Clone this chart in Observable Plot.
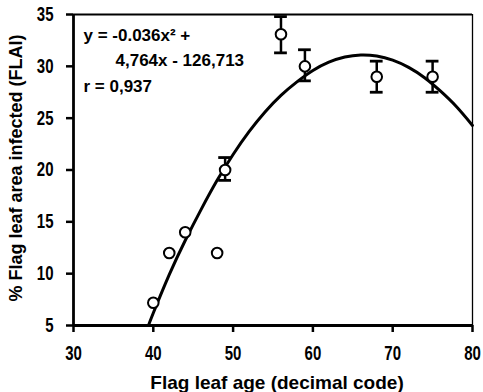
<!DOCTYPE html>
<html>
<head>
<meta charset="utf-8">
<script src="https://cdn.jsdelivr.net/npm/d3@7"></script>
<script src="https://cdn.jsdelivr.net/npm/@observablehq/plot@0.6"></script>
<style>
  html, body { margin: 0; padding: 0; background: #fff; }
  #chart { width: 483px; height: 392px; overflow: hidden; }
</style>
</head>
<body>
<div id="chart"></div>
<script>
// Observed points
const age = [40, 42, 44, 48, 49, 56, 59, 68, 75];
const flai = [7.2, 12, 14, 12, 20, 33.1, 30, 29, 29];

// Error bars
const errAge = [49, 56, 59, 68, 75];
const errLow = [19.0, 31.3, 28.6, 27.5, 27.5];
const errHigh = [21.2, 34.8, 31.6, 30.5, 30.5];

// Fitted curve, points
const fitX = [39.4, 40, 42, 44, 46, 48, 50, 52, 54, 56, 58, 60, 62, 64, 66, 68, 70, 72, 74, 76, 78, 80];
const fitY = [5.0, 6.2, 9.9, 13.2, 16.2, 19.0, 21.5, 23.7, 25.6, 27.2, 28.5, 29.6, 30.4, 30.9, 31.1, 31.0, 30.6, 29.9, 28.9, 27.6, 26.1, 24.3];

// Tick labels and texts
const xTicks = [30, 40, 50, 60, 70, 80];
const yTicks = [5, 10, 15, 20, 25, 30, 35];
const xTitle = "Flag leaf age (decimal code)";
const yTitle = "% Flag leaf area infected (FLAI)";
const eqLines = ["y = -0.036x\u00B2 +", "4,764x - 126,713", "r = 0,937"];

const points = age.map((a, i) => ({x: a, y: flai[i]}));
const errs = errAge.map((a, i) => ({x: a, lo: errLow[i], hi: errHigh[i]}));
const fit = fitX.map((a, i) => ({x: a, y: fitY[i]}));

const font = "'Liberation Sans', Arial, sans-serif";

const chart = Plot.plot({
  width: 483,
  height: 392,
  marginLeft: 73,
  marginRight: 11,
  marginTop: 14,
  marginBottom: 67,
  style: {fontFamily: font, fontWeight: "bold", fontSize: "19px", background: "#fff", color: "#000"},
  x: {domain: [30, 80]},
  y: {domain: [5, 35]},
  marks: [
    Plot.axisX({ticks: xTicks, tickSize: 7, tickPadding: 13, label: null, strokeWidth: 2.5, fontSize: 20}),
    Plot.axisY({ticks: yTicks, tickSize: 7, tickPadding: 13, label: null, strokeWidth: 2.5, fontSize: 20}),
    Plot.ruleX([80], {strokeWidth: 1.3}),
    Plot.ruleY([35], {strokeWidth: 2.2}),
    Plot.ruleX([30], {strokeWidth: 2.8}),
    Plot.ruleY([5], {strokeWidth: 2.8}),
    Plot.line(fit, {x: "x", y: "y", curve: "natural", strokeWidth: 3, stroke: "#000"}),
    Plot.ruleX(errs, {x: "x", y1: "lo", y2: "hi", strokeWidth: 2.5}),
    Plot.ruleY(errs, {y: "lo", x1: d => d.x - 0.8, x2: d => d.x + 0.8, strokeWidth: 2.8}),
    Plot.ruleY(errs, {y: "hi", x1: d => d.x - 0.8, x2: d => d.x + 0.8, strokeWidth: 2.8}),
    Plot.dot(points, {x: "x", y: "y", r: 5.3, fill: "#fff", stroke: "#000", strokeWidth: 2}),
    Plot.text([eqLines[0]], {frameAnchor: "top-left", dx: 10, dy: 26, textAnchor: "start", lineAnchor: "bottom", fontSize: 17}),
    Plot.text([eqLines[1]], {frameAnchor: "top-left", dx: 42, dy: 51, textAnchor: "start", lineAnchor: "bottom", fontSize: 17}),
    Plot.text([eqLines[2]], {frameAnchor: "top-left", dx: 10, dy: 77, textAnchor: "start", lineAnchor: "bottom", fontSize: 17}),
    Plot.text([xTitle], {frameAnchor: "bottom", textAnchor: "middle", lineAnchor: "middle", dx: 4, dy: 57, fontSize: 19}),
    Plot.text([yTitle], {frameAnchor: "left", textAnchor: "middle", lineAnchor: "middle", dx: -57, dy: -2, rotate: -90, fontSize: 18})
  ]
});
// condense the tick label digits like the original's narrow typeface
chart.querySelectorAll("text").forEach(t => {
  if (!/^\d+$/.test(t.textContent.trim())) return;
  const tr = t.getAttribute("transform") || "";
  t.setAttribute("transform", `${tr} scale(0.75,1)`);
});
document.getElementById("chart").appendChild(chart);
</script>
</body>
</html>
